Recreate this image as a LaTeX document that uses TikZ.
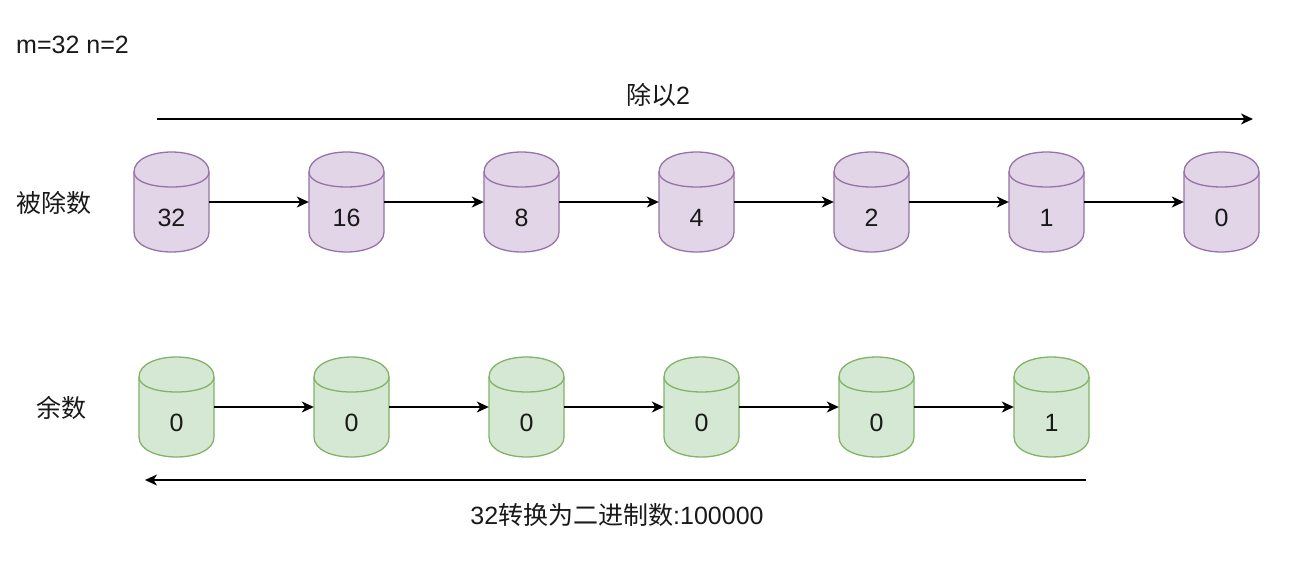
\documentclass[tikz,border=0pt]{standalone}
\usepackage{fontspec}
\setmainfont{Liberation Sans}
\newfontfamily\cjk{Noto Sans CJK SC}
\usetikzlibrary{arrows.meta}
\definecolor{pfill}{HTML}{E1D5E7}
\definecolor{pdraw}{HTML}{9673A6}
\definecolor{gfill}{HTML}{D5E8D4}
\definecolor{gdraw}{HTML}{82B366}
\tikzset{
  purplecyl/.style={fill=pfill,draw=pdraw,line width=1.3},
  greencyl/.style={fill=gfill,draw=gdraw,line width=1.3},
  cylnode/.style={rectangle,minimum width=75,minimum height=100,inner sep=0},
  txt/.style={font=\fontsize{25}{29}\selectfont,inner sep=0,text=black!90},
  arr/.style={line width=1.3,-{Stealth[length=12,width=11,inset=3.5]}},
}
\newcommand\mycyl[5]{%
\begin{scope}[shift={(#2,#3)}]
\path[#4] (0,20) .. controls (0,-6.667) and (75,-6.667) .. (75,20) -- (75,80) .. controls (75,106.667) and (0,106.667) .. (0,80) -- cycle;
\draw[#4,fill=none] (0,20) .. controls (0,40) and (75,40) .. (75,20);
\node[cylnode] (#1) at (37.5,50) {};
\node[txt] (#1t) at (37.5,66) {#5};
\end{scope}}
\begin{document}
\begin{tikzpicture}[x=1pt,y=-1pt]
\useasboundingbox[fill=white] (0,0) rectangle (1306,571);
\node[txt,anchor=west] (mn) at (16,45) {m=32 n=2};
\node[txt,anchor=west] (lab1) at (16,203) {\cjk 被除数};
\node[txt,anchor=west] (lab2) at (36,408) {\cjk 余数};
% top arrow
\coordinate (ta) at (157,119);
\coordinate (tb) at (1253,119);
\draw[arr] (ta) -- (tb);
\node[txt] (toplab) at (658,95) {{\cjk 除以}2};
% purple row
\mycyl{p1}{134}{152}{purplecyl}{32}
\mycyl{p2}{309}{152}{purplecyl}{16}
\mycyl{p3}{484}{152}{purplecyl}{8}
\mycyl{p4}{659}{152}{purplecyl}{4}
\mycyl{p5}{834}{152}{purplecyl}{2}
\mycyl{p6}{1009}{152}{purplecyl}{1}
\mycyl{p7}{1184}{152}{purplecyl}{0}
\draw[arr] (p1) -- (p2);
\draw[arr] (p2) -- (p3);
\draw[arr] (p3) -- (p4);
\draw[arr] (p4) -- (p5);
\draw[arr] (p5) -- (p6);
\draw[arr] (p6) -- (p7);
% green row
\mycyl{g1}{139}{357}{greencyl}{0}
\mycyl{g2}{314}{357}{greencyl}{0}
\mycyl{g3}{489}{357}{greencyl}{0}
\mycyl{g4}{664}{357}{greencyl}{0}
\mycyl{g5}{839}{357}{greencyl}{0}
\mycyl{g6}{1014}{357}{greencyl}{1}
\draw[arr] (g1) -- (g2);
\draw[arr] (g2) -- (g3);
\draw[arr] (g3) -- (g4);
\draw[arr] (g4) -- (g5);
\draw[arr] (g5) -- (g6);
% bottom arrow
\coordinate (ba) at (1086,480);
\coordinate (bb) at (145,480);
\draw[arr] (ba) -- (bb);
\node[txt] (botlab) at (617,515) {32{\cjk 转换为二进制数}:100000};
\end{tikzpicture}
\end{document}
